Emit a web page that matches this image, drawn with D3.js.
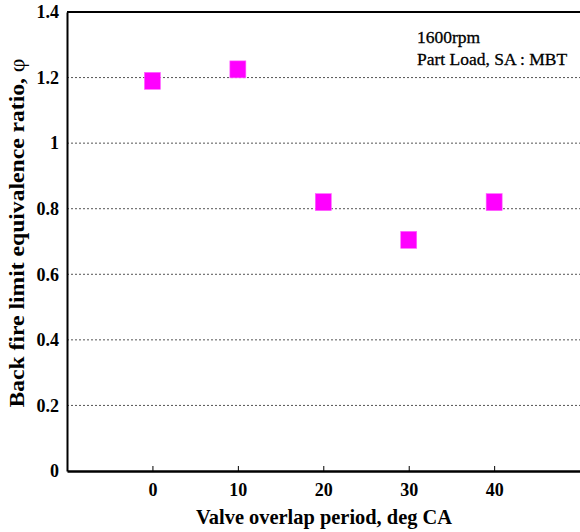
<!DOCTYPE html>
<html>
<head>
<meta charset="utf-8">
<script src="https://cdn.jsdelivr.net/npm/d3@7"></script>
<style>
  body { margin: 0; background: #fff; }
  text { font-family: "Liberation Serif", "Times New Roman", serif; }
</style>
</head>
<body>
<div id="chart"></div>
<script>
// values
const overlap = [0, 10, 20, 30, 40];
const phi = [1.19, 1.225, 0.82, 0.705, 0.82];
const xTicks = [0, 10, 20, 30, 40];
const yTicks = [0, 0.2, 0.4, 0.6, 0.8, 1, 1.2, 1.4];
const notes = ["1600rpm", "Part Load, SA : MBT"];

const W = 580, H = 532;
const margin = { top: 12, right: 0, bottom: 61, left: 67 };
const width = W - margin.left - margin.right;
const height = H - margin.top - margin.bottom;

const svg = d3.select("#chart").append("svg")
    .attr("width", W)
    .attr("height", H)
    .append("g")
    .attr("transform", `translate(${margin.left},${margin.top})`);

const x = d3.scaleLinear().domain([-10, 50.4]).range([0, width + 3]);
const y = d3.scaleLinear().domain([0, 1.4]).range([height, 0]);

// dotted grid
svg.append("g")
    .selectAll("line")
    .data(yTicks.filter(d => d > 0 && d < 1.4))
    .join("line")
    .attr("x1", 0)
    .attr("x2", W)
    .attr("y1", d => y(d))
    .attr("y2", d => y(d))
    .attr("stroke", "#555")
    .attr("stroke-width", 1)
    .attr("stroke-dasharray", "2,2");

// y axis
const yAxis = svg.append("g")
    .call(d3.axisLeft(y).tickValues(yTicks).tickSize(0).tickPadding(8)
        .tickFormat(d => d3.format("")(+d.toFixed(1))));
yAxis.select(".domain").attr("stroke", "#000").attr("stroke-width", 2);
yAxis.selectAll("text")
    .attr("font-family", "Liberation Serif")
    .attr("font-size", 18)
    .attr("font-weight", "bold")
    .attr("fill", "#000");

// x axis, ticks pointing inward
const xAxis = svg.append("g")
    .attr("transform", `translate(0,${height})`)
    .call(d3.axisBottom(x).tickValues(xTicks).tickSizeInner(-5).tickSizeOuter(0).tickPadding(12));
xAxis.select(".domain").attr("stroke", "#000").attr("stroke-width", 2.5);
xAxis.selectAll(".tick line").attr("stroke", "#000");
xAxis.selectAll("text")
    .attr("font-family", "Liberation Serif")
    .attr("font-size", 18)
    .attr("font-weight", "bold")
    .attr("fill", "#000");

// top frame line
svg.append("line")
    .attr("x1", 0).attr("x2", W)
    .attr("y1", 0).attr("y2", 0)
    .attr("stroke", "#000")
    .attr("stroke-width", 2);

// markers
const size = 16;
svg.append("g")
    .selectAll("rect")
    .data(overlap.map((d, i) => ({ x: d, y: phi[i] })))
    .join("rect")
    .attr("x", d => x(d.x) - size / 2)
    .attr("y", d => y(d.y) - size / 2 - 0.5)
    .attr("width", size)
    .attr("height", size + 1)
    .attr("fill", "#ff00ff")
    .attr("stroke", "#ff66ff")
    .attr("stroke-width", 0.6);

// annotation
svg.append("g")
    .selectAll("text")
    .data(notes)
    .join("text")
    .attr("x", 350)
    .attr("y", (d, i) => 31 + i * 22)
    .attr("font-size", 17.5)
    .attr("fill", "#000")
    .attr("stroke", "#000")
    .attr("stroke-width", 0.3)
    .text(d => d);

// axis titles
svg.append("text")
    .attr("x", 257)
    .attr("y", height + 53)
    .attr("text-anchor", "middle")
    .attr("font-size", 22)
    .attr("font-weight", "bold")
    .attr("textLength", 256)
    .attr("lengthAdjust", "spacingAndGlyphs")
    .text("Valve overlap period, deg CA");

const yl = svg.append("text")
    .attr("transform", `translate(${-43},${221}) rotate(-90)`)
    .attr("text-anchor", "middle")
    .attr("font-size", 22)
    .attr("font-weight", "bold")
    .attr("textLength", 349)
    .attr("lengthAdjust", "spacingAndGlyphs");
yl.append("tspan").text("Back fire limit equivalence ratio, ");
yl.append("tspan").attr("font-weight", "normal").text("\u03c6");
</script>
</body>
</html>
